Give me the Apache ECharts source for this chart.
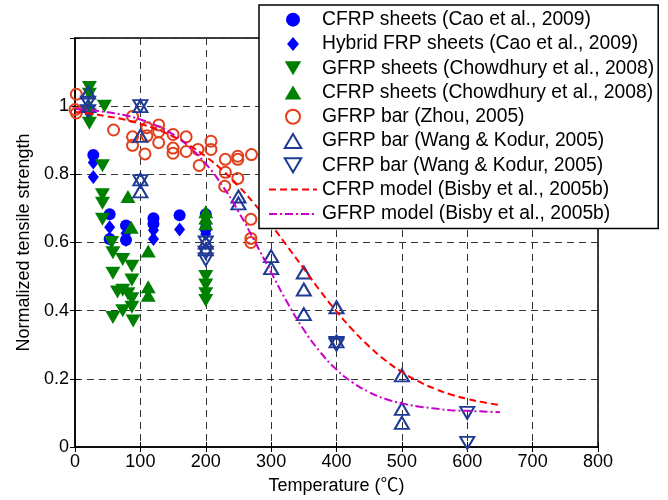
<!DOCTYPE html>
<html>
<head>
<meta charset="utf-8">
<script src="https://cdn.jsdelivr.net/npm/echarts@6/dist/echarts.min.js"></script>
<style>
  html, body { margin: 0; padding: 0; background: #fff; }
  #chart { width: 668px; height: 500px; }
</style>
</head>
<body>
<div id="chart"></div>
<script>
// Temperature (deg C) / normalized tensile strength pairs for each test series
const cfrpSheetsCao = [[28,0.857],[53,0.683],[53,0.61],[78,0.65],[78,0.607],[120,0.671],[120,0.654],[160,0.68],[200,0.683],[200,0.64]];
const hybridSheetsCao = [[28,0.835],[28,0.792],[53,0.645],[53,0.612],[78,0.627],[78,0.607],[120,0.636],[120,0.61],[160,0.638],[200,0.652],[200,0.625]];
const gfrpSheetsChowdhury = [[22,1.055],[22,1.035],[22,0.975],[22,0.95],[45,1.0],[42,0.825],[42,0.74],[42,0.715],[42,0.668],[56,0.60],[58,0.57],[58,0.51],[58,0.38],[65,0.455],[73,0.55],[73,0.46],[73,0.40],[81,0.45],[87,0.53],[87,0.49],[87,0.435],[87,0.41],[89,0.37],[200,0.50],[200,0.475],[200,0.45],[200,0.43]];
const cfrpSheetsChowdhury = [[22,1.0],[81,0.735],[86,0.645],[112,0.575],[112,0.47],[112,0.445],[200,0.69],[200,0.672],[200,0.655]];
const gfrpBarZhou = [[2,1.035],[0,0.99],[2,0.98],[59,0.93],[88,0.97],[88,0.91],[88,0.885],[107,0.86],[110,0.937],[110,0.913],[128,0.945],[128,0.925],[128,0.893],[150,0.917],[150,0.877],[150,0.862],[170,0.91],[170,0.867],[188,0.873],[190,0.826],[208,0.897],[208,0.873],[230,0.844],[230,0.806],[229,0.765],[249,0.853],[249,0.844],[249,0.788],[270,0.858],[269,0.668],[269,0.612],[269,0.600]];
const gfrpBarWangKodur = [[20,1.04],[20,1.0],[100,1.0],[100,0.913],[100,0.785],[100,0.75],[200,0.60],[200,0.58],[250,0.735],[250,0.715],[300,0.56],[300,0.525],[350,0.512],[350,0.462],[350,0.39],[400,0.41],[400,0.31],[500,0.21],[500,0.112],[500,0.071]];
const cfrpBarWangKodur = [[20,1.01],[20,0.985],[100,1.0],[100,0.78],[200,0.60],[200,0.57],[200,0.55],[400,0.305],[400,0.30],[600,0.10],[600,0.012]];

// Model curves, sampled every 25 deg C
const modelTemps = [0,25,50,75,100,125,150,175,200,225,250,275,300,325,350,375,400,425,450,475,500,525,550,575,600,625,650];
const cfrpModel = [0.983,0.978,0.970,0.961,0.948,0.932,0.911,0.885,0.852,0.813,0.766,0.712,0.652,0.588,0.523,0.458,0.398,0.343,0.295,0.254,0.220,0.193,0.171,0.154,0.141,0.131,0.123];
const gfrpModel = [0.992,0.988,0.982,0.974,0.961,0.943,0.917,0.880,0.831,0.768,0.691,0.603,0.512,0.423,0.344,0.279,0.227,0.189,0.161,0.141,0.128,0.119,0.113,0.108,0.106,0.104,0.102];

const seriesNames = [
  'CFRP sheets (Cao et al., 2009)',
  'Hybrid FRP sheets (Cao et al., 2009)',
  'GFRP sheets (Chowdhury et al., 2008)',
  'CFRP sheets (Chowdhury et al., 2008)',
  'GFRP bar (Zhou, 2005)',
  'GFRP bar (Wang & Kodur, 2005)',
  'CFRP bar (Wang & Kodur, 2005)',
  'CFRP model (Bisby et al., 2005b)',
  'GFRP model (Bisby et al., 2005b)'
];

const FONT = "'Liberation Sans', Arial, 'Noto Sans CJK SC', sans-serif";
const BLUE = '#0000ff', GREEN = '#008000', ORANGE = '#e2401c', NAVY = '#1f3a96';

// Legend glyphs that keep their proportions inside the wide icon slot
const ICON_UP = 'path://M1,0L2,1.7L0,1.7Z';
const ICON_DOWN = 'path://M0,0L2,0L1,1.7Z';
const ICON_DIAMOND = 'path://M0.85,0L1.7,1L0.85,2L0,1Z';
const legendItems = seriesNames.map((name, i) => {
  const icons = ['circle', ICON_DIAMOND, ICON_DOWN, ICON_UP, 'circle', ICON_UP, ICON_DOWN];
  if (i < icons.length) return { name, icon: icons[i] };
  // model curves: show only the line sample, no marker
  return { name, itemStyle: { color: 'rgba(0,0,0,0)', borderWidth: 0, opacity: 0 } };
});

function pair(xs, ys) { return xs.map((x, i) => [x, ys[i]]); }

function filled(name, data, symbol, size, color, rotate) {
  return { name, type: 'scatter', data, symbol, symbolSize: size, symbolRotate: rotate || 0,
           itemStyle: { color, opacity: 1 } };
}
function hollow(name, data, symbol, size, color, rotate) {
  return { name, type: 'scatter', data, symbol, symbolSize: size, symbolRotate: rotate || 0,
           itemStyle: { color: 'rgba(255,255,255,0)', borderColor: color, borderWidth: 2, opacity: 1 } };
}

const chart = echarts.init(document.getElementById('chart'), null, { renderer: 'canvas' });

const gridDash = { color: '#333', type: [7, 5], width: 1 };
const innerTick = { show: true, inside: true, length: 5, lineStyle: { color: '#000' } };

chart.setOption({
  animation: false,
  backgroundColor: '#fff',
  textStyle: { fontFamily: FONT },
  grid: { left: 75, right: 70, top: 38, bottom: 52, show: true, borderColor: '#000', borderWidth: 1.5 },
  xAxis: [{
    type: 'value', min: 0, max: 800, interval: 100,
    name: 'Temperature (℃)', nameLocation: 'middle', nameGap: 30,
    nameTextStyle: { fontSize: 18, color: '#000', fontFamily: FONT },
    axisLine: { show: true, onZero: false, lineStyle: { color: '#000', width: 1.5 } },
    axisTick: innerTick,
    axisLabel: { fontSize: 18, color: '#000', margin: 6, fontFamily: FONT },
    splitLine: { show: true, lineStyle: gridDash }
  }, {
    type: 'value', min: 0, max: 800, interval: 100, position: 'top',
    axisLine: { show: false }, axisTick: innerTick,
    axisLabel: { show: false }, splitLine: { show: false }
  }],
  yAxis: [{
    type: 'value', min: 0, max: 1.2, interval: 0.2,
    name: 'Normalized tensile strength', nameLocation: 'middle', nameGap: 40,
    nameTextStyle: { fontSize: 18, color: '#000', fontFamily: FONT },
    axisLine: { show: true, onZero: false, lineStyle: { color: '#000', width: 1.5 } },
    axisTick: innerTick,
    axisLabel: { fontSize: 18, color: '#000', margin: 6, fontFamily: FONT,
                 formatter: v => (v > 1.1 ? '' : String(+v.toFixed(1))) },
    splitLine: { show: true, lineStyle: gridDash }
  }, {
    type: 'value', min: 0, max: 1.2, interval: 0.2, position: 'right',
    axisLine: { show: false }, axisTick: innerTick,
    axisLabel: { show: false }, splitLine: { show: false }
  }],
  legend: {
    orient: 'vertical', left: 259, top: 5,
    padding: [5, 4, 5, 9], itemGap: 5, itemWidth: 48, itemHeight: 14,
    symbolKeepAspect: true,
    backgroundColor: '#fff', borderColor: '#000', borderWidth: 1.5, borderRadius: 0,
    selectedMode: false,
    textStyle: { fontSize: 19.3, color: '#000', fontFamily: FONT },
    data: legendItems
  },
  series: [
    filled(seriesNames[0], cfrpSheetsCao, 'circle', 12, BLUE),
    filled(seriesNames[1], hybridSheetsCao, 'diamond', [11, 14], BLUE),
    filled(seriesNames[2], gfrpSheetsChowdhury, 'triangle', [15, 13], GREEN, 180),
    filled(seriesNames[3], cfrpSheetsChowdhury, 'triangle', [15, 13], GREEN),
    hollow(seriesNames[4], gfrpBarZhou, 'circle', 11, ORANGE),
    hollow(seriesNames[5], gfrpBarWangKodur, 'triangle', [14, 12], NAVY),
    hollow(seriesNames[6], cfrpBarWangKodur, 'triangle', [14, 12], NAVY, 180),
    { name: seriesNames[7], type: 'line', data: pair(modelTemps, cfrpModel), smooth: true,
      symbol: 'none', lineStyle: { color: '#ff0000', width: 2, type: [7, 4] }, itemStyle: { color: '#ff0000' } },
    { name: seriesNames[8], type: 'line', data: pair(modelTemps, gfrpModel), smooth: true,
      symbol: 'none', lineStyle: { color: '#cc00cc', width: 2, type: [8, 3, 2, 3] }, itemStyle: { color: '#cc00cc' } }
  ]
});
</script>
</body>
</html>
